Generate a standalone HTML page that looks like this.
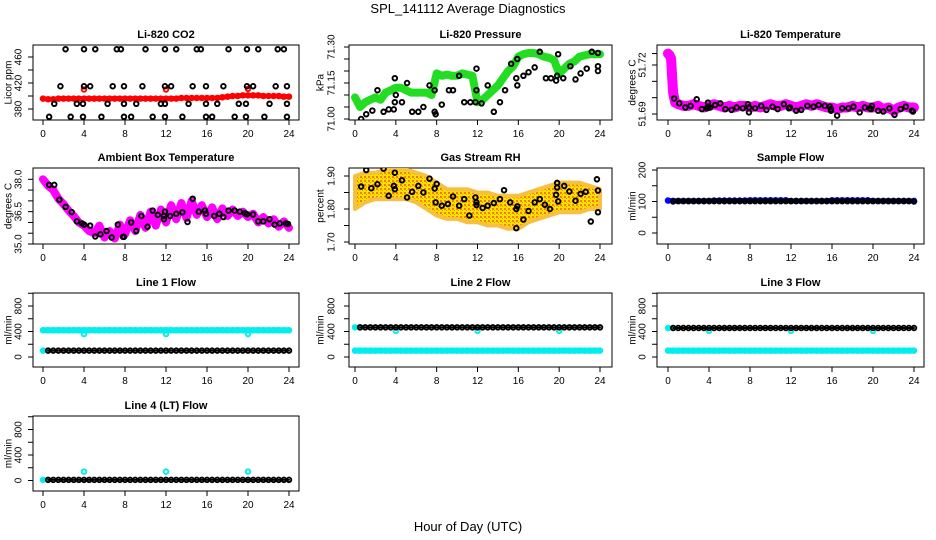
<!DOCTYPE html>
<html><head><meta charset="utf-8"><style>
body{margin:0;background:#fff}
svg{display:block;font-family:"Liberation Sans",sans-serif}
</style></head><body>
<svg id="c" width="936" height="540" viewBox="0 0 936 540">
<defs>
<pattern id="rhpat" width="4" height="4" patternUnits="userSpaceOnUse"><rect width="4" height="4" fill="#ffe000"/><rect width="2" height="2" fill="#f08000"/><rect x="2" y="2" width="1" height="1" fill="#f09000"/></pattern>
</defs>
<text x="468" y="13" text-anchor="middle" font-size="13">SPL_141112  Average Diagnostics</text>
<text x="468" y="531" text-anchor="middle" font-size="13">Hour of Day (UTC)</text>
</svg>
<script>
// ---------- data ----------
const xTicks=[0,4,8,12,16,20,24];
const halfHours=[0,0.5,1,1.5,2,2.5,3,3.5,4,4.5,5,5.5,6,6.5,7,7.5,8,8.5,9,9.5,10,10.5,11,11.5,12,12.5,13,13.5,14,14.5,15,15.5,16,16.5,17,17.5,18,18.5,19,19.5,20,20.5,21,21.5,22,22.5,23,23.5,24];
const hourly=[0,1,2,3,4,5,6,7,8,9,10,11,12,13,14,15,16,17,18,19,20,21,22,23,24];

const co2BlackHours=[2.2,4,5.1,7.2,7.6,10,11.9,13,15,15.4,18.1,19.9,21,22.9,23.5,1.7,4,4.6,6.8,7.9,9.7,11.9,12.5,14.6,15.9,17.6,19.9,20.5,22.7,23.8,1.1,3.3,3.9,6.3,7.9,9.1,11.5,11.9,14.2,15.9,17,19.1,19.8,22.1,23.8,0.6,2.7,3.9,5.7,7.9,8.6,10.7,11.9,13.6,15.9,16.5,18.7,19.8,21.6,23.8];
const co2BlackVals=[472,472,472,472,472,472,472,472,472,472,472,472,472,472,472,415,415,415,415,415,415,415,415,415,415,415,415,415,415,415,388,388,388,388,388,388,388,388,388,388,388,388,388,388,388,368,368,368,368,368,368,368,368,368,368,368,368,368,368,368];
const co2Red=[396,395,395,396,396,396,396,396,396,396,396,396,396,396,396,396,396,396,396,396,396,396,396,396,396,396,396,397,397,397,397,397,397,397,397,398,399,400,400,401,401,401,401,400,400,400,400,399,399];
const co2RedOutHours=[4,12,20];const co2RedOutVals=[410,410,411];

const presBlackHours=[0.6,1.1,1.7,2.2,2.8,3.3,3.8,3.9,3.9,4.0,4.6,5.1,5.6,6.2,6.7,7.3,7.8,7.8,7.9,8.5,9.2,9.6,10.2,10.7,11.3,11.8,11.9,11.9,12.4,13.0,13.6,14.2,14.7,15.3,15.8,15.9,15.9,16.5,17.0,17.6,18.1,18.7,19.2,19.7,19.8,19.9,20.4,21.1,21.6,22.1,22.7,23.2,23.8,23.8,23.8];
const presBlackVals=[71.0,71.02,71.035,71.12,71.03,71.04,71.04,71.07,71.17,71.1,71.07,71.15,71.03,71.03,71.05,71.14,71.12,71.03,71.02,71.06,71.12,71.12,71.18,71.07,71.07,71.07,71.12,71.21,71.065,71.14,71.03,71.07,71.12,71.23,71.17,71.14,71.25,71.18,71.195,71.215,71.28,71.17,71.17,71.16,71.18,71.27,71.17,71.22,71.165,71.19,71.21,71.28,71.22,71.2,71.275];
const presGreen=[71.09,71.05,71.07,71.08,71.09,71.08,71.11,71.12,71.13,71.13,71.12,71.11,71.11,71.11,71.11,71.1,71.19,71.18,71.185,71.18,71.18,71.19,71.185,71.18,71.07,71.08,71.1,71.12,71.14,71.17,71.2,71.22,71.26,71.27,71.275,71.275,71.27,71.26,71.255,71.245,71.19,71.21,71.23,71.24,71.26,71.265,71.27,71.27,71.27];

const tempBlackHours=[0.6,1.1,1.7,2.2,2.8,3.3,3.8,3.9,3.9,4.1,4.6,5.1,5.6,6.2,6.7,7.3,7.8,7.9,7.9,8.5,9.1,9.6,10.2,10.7,11.3,11.8,11.9,12.5,13,13.6,14.2,14.7,15.3,15.8,15.9,15.9,16.5,17,17.6,18.1,18.7,19.2,19.7,19.9,19.8,20.5,21,21.6,22.1,22.7,23.2,23.8,23.9];
const tempBlackVals=[51.6995,51.6965,51.694,51.695,51.699,51.693,51.6935,51.6945,51.697,51.694,51.6955,51.6965,51.693,51.6925,51.694,51.6935,51.696,51.694,51.691,51.6935,51.695,51.6925,51.6945,51.693,51.696,51.6935,51.694,51.692,51.6925,51.695,51.6945,51.6955,51.695,51.6945,51.693,51.692,51.689,51.6935,51.6935,51.6945,51.691,51.694,51.6935,51.695,51.693,51.692,51.6915,51.6935,51.6895,51.693,51.6945,51.692,51.6915];
const tempMagHours=[0,0.15,0.3,0.4,0.5,0.7,1,1.5,2,2.5,3,3.5,4,4.5,5,5.5,6,6.5,7,7.5,8,8.5,9,9.5,10,10.5,11,11.5,12,12.5,13,13.5,14,14.5,15,15.5,16,16.5,17,17.5,18,18.5,19,19.5,20,20.5,21,21.5,22,22.5,23,23.5,24];
const tempMagVals=[51.727,51.726,51.724,51.713,51.703,51.697,51.696,51.695,51.695,51.696,51.695,51.694,51.695,51.696,51.695,51.694,51.695,51.694,51.695,51.695,51.694,51.695,51.694,51.695,51.696,51.695,51.695,51.696,51.695,51.694,51.695,51.696,51.695,51.696,51.695,51.694,51.694,51.693,51.694,51.694,51.695,51.694,51.695,51.694,51.694,51.695,51.693,51.694,51.692,51.694,51.695,51.694,51.694];

const ambBlackHours=[0.6,1.1,1.6,2.2,2.8,3.3,3.8,4.0,4.6,5.1,5.6,6.2,6.7,7.3,7.8,7.9,8.6,9.1,9.6,10.2,10.7,11.2,11.8,11.9,11.8,12.4,13,13.6,14.1,14.6,15.2,15.8,15.9,16.7,17.2,17.6,18.1,18.7,19.2,19.7,19.9,20.5,21,21.5,22.1,22.6,23.1,23.7,23.9];
const ambBlackVals=[37.74,37.74,37.05,36.72,36.48,36.05,35.95,35.9,35.85,35.35,35.45,35.6,35.3,35.9,35.33,35.33,36.0,35.6,36.3,35.8,36.55,36.35,36.3,36.5,36.15,36.3,36.4,36.47,36.02,37.1,36.5,36.55,36.4,36.3,36.4,36.25,36.55,36.55,36.5,36.42,36.38,36.37,36.05,36.05,36.15,35.9,35.95,35.95,35.93];
const ambMag=[38.0,37.7,37.5,37.1,36.85,36.55,36.3,36.0,35.85,35.6,35.5,35.85,35.3,35.6,35.25,35.9,35.45,36.1,35.6,36.35,35.75,36.5,35.85,36.6,36.0,36.8,36.15,36.9,36.2,37.0,36.35,36.8,36.25,36.7,36.15,36.65,36.3,36.6,36.3,36.5,36.25,36.4,36.0,36.25,35.95,36.15,35.8,36.05,35.75];

const rhUpper=[1.90,1.91,1.91,1.92,1.92,1.92,1.91,1.90,1.88,1.86,1.86,1.86,1.85,1.85,1.84,1.84,1.84,1.85,1.86,1.87,1.88,1.88,1.88,1.87,1.86];
const rhLower=[1.80,1.82,1.83,1.83,1.83,1.83,1.82,1.80,1.78,1.77,1.77,1.76,1.76,1.75,1.75,1.74,1.74,1.76,1.77,1.78,1.79,1.79,1.79,1.80,1.80];
const rhBlackHours=[0.6,1.1,1.6,2.2,2.8,3.3,3.8,3.9,3.9,4.6,5.1,5.6,6.2,6.7,7.3,7.9,7.8,8,8.5,9.1,9.6,10.2,10.7,11.2,11.8,11.9,11.9,12.5,13,13.6,14.2,14.6,15.2,15.8,15.9,15.8,16.5,17,17.6,18.1,18.6,19.1,19.7,19.8,19.8,19.9,20.5,21,21.6,22.1,22.6,23.1,23.7,23.8,23.8];
const rhBlackVals=[1.868,1.918,1.863,1.875,1.922,1.84,1.87,1.86,1.91,1.887,1.835,1.852,1.87,1.85,1.892,1.82,1.862,1.876,1.81,1.815,1.838,1.81,1.83,1.78,1.835,1.82,1.812,1.803,1.81,1.818,1.83,1.857,1.82,1.80,1.808,1.742,1.768,1.794,1.82,1.83,1.813,1.80,1.843,1.865,1.879,1.823,1.87,1.853,1.825,1.846,1.852,1.762,1.89,1.856,1.79];

const sampleBlue=[103,102,102,102,102,102,102,102,102,103,103,103,103,103,103,103,104,104,104,104,104,104,104,104,102,102,102,102,102,102,102,102,104,104,104,104,104,104,104,104,102,102,102,102,102,102,102,102,102];
const sampleBlack=[101,100,101,101,101,101,101,101,101,101,101,101,101,101,101,101,101,101,101,101,101,101,101,101,101,101,101,101,101,101,101,101,101,101,101,101,101,101,101,101,101,101,101,101,101,101,101,101,100];

const dipHours=[4,12,20];
const line1Cyan=420, line1Dips=[360,360,360], line1Black=100;
const line2Black=465, line2CyanHigh=465, line2Dips=[410,410,410], line2CyanLow=100;
const line3Black=455, line3CyanHigh=455, line3Dips=[410,410,410], line3CyanLow=100;
const line4Black=10, line4Cyan=10, line4Blips=[140,140,140];

// ---------- layout ----------
const cols=[{L:33,R:299,x0:43,x24:289,tl:18,at:8},{L:349,R:612,x0:355,x24:600,tl:331,at:320},{L:657,R:924,x0:668,x24:914,tl:642,at:632}];
const rows=[{T:45,B:120},{T:168,B:244},{T:293,B:367},{T:416,B:491}];
const svg=document.getElementById('c');
const NS='http://www.w3.org/2000/svg';
function el(tag,attrs,parent){const e=document.createElementNS(NS,tag);for(const k in attrs)e.setAttribute(k,attrs[k]);(parent||svg).appendChild(e);return e;}

function panel(name,title,ci,ri,yAxis,ytitle){
  const c=cols[ci],r=rows[ri];
  const g=el('g',{});
  
  
  const sx=h=>c.x0+(c.x24-c.x0)*h/24;
  const sy=v=>yAxis.y1+(yAxis.y2-yAxis.y1)*(v-yAxis.v1)/(yAxis.v2-yAxis.v1);
  const box=el('rect',{x:c.L,y:r.T,width:c.R-c.L,height:r.B-r.T,fill:'none',stroke:'#000','stroke-width':1},g);
  
  
  const t=el('text',{x:(c.L+c.R)/2,y:r.T-7,'text-anchor':'middle','font-size':11,'font-weight':'bold'},g);
  t.textContent=title;
  
  
  const xa=el('g',{},g);
  
  
  el('line',{x1:sx(0),x2:sx(24),y1:r.B,y2:r.B,stroke:'#000'},xa);
  xTicks.forEach(h=>{el('line',{x1:sx(h),x2:sx(h),y1:r.B,y2:r.B+5,stroke:'#000'},xa);
    const tx=el('text',{x:sx(h),y:r.B+17,'text-anchor':'middle','font-size':10},xa);tx.textContent=h;});
  const ya=el('g',{},g);
  
  
  const ys=yAxis.ticks.map(sy);
  el('line',{x1:c.L,x2:c.L,y1:Math.min(...ys),y2:Math.max(...ys),stroke:'#000'},ya);
  yAxis.ticks.forEach((v,i)=>{const y=sy(v);el('line',{x1:c.L-5,x2:c.L,y1:y,y2:y,stroke:'#000'},ya);
    if(yAxis.labels[i]){const tx=el('text',{x:c.tl,y:y,'text-anchor':'middle','font-size':10,transform:`rotate(-90 ${c.tl} ${y})`,dy:'0.35em'},ya);tx.textContent=yAxis.labels[i];}});
  const yt=el('text',{x:c.at,y:(r.T+r.B)/2,'text-anchor':'middle','font-size':10,transform:`rotate(-90 ${c.at} ${(r.T+r.B)/2})`,dy:'0.35em'},g);
  yt.textContent=ytitle;
  
  
  const clip=el('clipPath',{id:name+'-clip'},g);el('rect',{x:c.L,y:r.T,width:c.R-c.L,height:r.B-r.T},clip);
  const plot=el('g',{'clip-path':`url(#${name}-clip)`},g);
  return {g:plot,sx,sy};
}
function pts(P,name,hours,vals,color,r,sw){
  const g=el('g',{},P.g);
  
  
  hours.forEach((h,i)=>{el('circle',{cx:P.sx(h),cy:P.sy(vals[i]),r:r||2.3,fill:'none',stroke:color,'stroke-width':sw||1.9},g);});
}
function band(P,name,hours,vals,color,w){
  const g=el('g',{},P.g);
  
  
  el('polyline',{points:hours.map((h,i)=>P.sx(h)+','+P.sy(vals[i])).join(' '),fill:'none',stroke:color,'stroke-width':w,'stroke-linejoin':'round','stroke-linecap':'round'},g);
  hours.forEach((h,i)=>el('circle',{cx:P.sx(h),cy:P.sy(vals[i]),r:2.3,fill:'none',stroke:color,'stroke-width':1.9},g));
}
const rep=(v,n)=>Array(n).fill(v);

// CO2
let P=panel('co2','Li-820 CO2',0,0,{v1:380,y1:109,v2:460,y2:57,ticks:[380,400,420,440,460],labels:['380','','420','','460']},'Licor ppm');
band(P,'co2-red-series',halfHours,co2Red,'#f00',5);
pts(P,'co2-red-outliers',co2RedOutHours,co2RedOutVals,'#f00');
pts(P,'co2-black-points',co2BlackHours,co2BlackVals,'#000');

// Pressure
P=panel('pressure','Li-820 Pressure',1,0,{v1:71.0,y1:119,v2:71.3,y2:47,ticks:[71.0,71.05,71.1,71.15,71.2,71.25,71.3],labels:['71.00','','','71.15','','','71.30']},'kPa');
band(P,'pressure-green-series',halfHours,presGreen,'#22dd22',8);
pts(P,'pressure-black-points',presBlackHours,presBlackVals,'#000');

// Temperature
P=panel('temperature','Li-820 Temperature',2,0,{v1:51.69,y1:114,v2:51.72,y2:65,ticks:[51.69,51.7,51.71,51.72,51.727],labels:['51.69','','','51.72','']},'degrees C');
band(P,'temperature-magenta-series',tempMagHours,tempMagVals,'#f0f',10);
pts(P,'temperature-black-points',tempBlackHours,tempBlackVals,'#000');

// Ambient
P=panel('ambient','Ambient Box Temperature',0,1,{v1:35,y1:244,v2:38,y2:179.3,ticks:[35,35.5,36,36.5,37,37.5,38],labels:['35.0','','','36.5','','','38.0']},'degrees C');
band(P,'ambient-magenta-series',halfHours,ambMag,'#f0f',8);
pts(P,'ambient-black-points',ambBlackHours,ambBlackVals,'#000');

// RH
P=panel('rh','Gas Stream RH',1,1,{v1:1.7,y1:242,v2:1.9,y2:176,ticks:[1.7,1.75,1.8,1.85,1.9],labels:['1.70','','1.80','','1.90']},'percent');
{const g=el('g',{},P.g);
 
 
 const up=hourly.map((h,i)=>P.sx(h)+','+P.sy(rhUpper[i]));
 const lo=hourly.map((h,i)=>P.sx(h)+','+P.sy(rhLower[i])).reverse();
 el('polygon',{points:up.concat(lo).join(' '),fill:'url(#rhpat)',stroke:'#f8c040','stroke-width':4,'stroke-linejoin':'round'},g);}
pts(P,'rh-black-points',rhBlackHours,rhBlackVals,'#000');

// Sample flow
P=panel('sample-flow','Sample Flow',2,1,{v1:0,y1:233,v2:200,y2:170,ticks:[0,50,100,150,200],labels:['0','','100','','200']},'ml/min');
band(P,'sample-flow-blue-series',halfHours,sampleBlue,'#0000ff',5);
band(P,'sample-flow-black-series',halfHours.slice(1),sampleBlack.slice(1),'#000',2);

// Line flows
function flowAxis(ri){const b=ri==2?357:480.5;return {v1:0,y1:b,v2:800,y2:b-51,ticks:[0,200,400,600,800,1000],labels:['0','','400','','800','']};}
const hh=halfHours.slice(1);
P=panel('line1-flow','Line 1 Flow',0,2,flowAxis(2),'ml/min');
band(P,'line1-cyan-series',halfHours,rep(line1Cyan,49),'#00eeee',6);
pts(P,'line1-cyan-dips',dipHours,line1Dips,'#00eeee');
band(P,'line1-cyan-low',[0,0.5],[line1Black,line1Black],'#00eeee',4);
band(P,'line1-black-series',hh,rep(line1Black,48),'#000',2);

P=panel('line2-flow','Line 2 Flow',1,2,flowAxis(2),'ml/min');
band(P,'line2-cyan-low',halfHours,rep(line2CyanLow,49),'#00eeee',6);
band(P,'line2-cyan-high',[0,0.5],[line2CyanHigh,line2CyanHigh],'#00eeee',4);
pts(P,'line2-cyan-dips',dipHours,line2Dips,'#00eeee');
band(P,'line2-black-series',hh,rep(line2Black,48),'#000',2);

P=panel('line3-flow','Line 3 Flow',2,2,flowAxis(2),'ml/min');
band(P,'line3-cyan-low',halfHours,rep(line3CyanLow,49),'#00eeee',6);
band(P,'line3-cyan-high',[0,0.5],[line3CyanHigh,line3CyanHigh],'#00eeee',4);
pts(P,'line3-cyan-dips',dipHours,line3Dips,'#00eeee');
band(P,'line3-black-series',hh,rep(line3Black,48),'#000',2);

P=panel('line4-flow','Line 4 (LT) Flow',0,3,flowAxis(3),'ml/min');
band(P,'line4-cyan-series',[0,0.5],[line4Cyan,line4Cyan],'#00eeee',4);
pts(P,'line4-cyan-blips',dipHours,line4Blips,'#00eeee');
band(P,'line4-black-series',hh,rep(line4Black,48),'#000',2);
</script>
</body></html>
